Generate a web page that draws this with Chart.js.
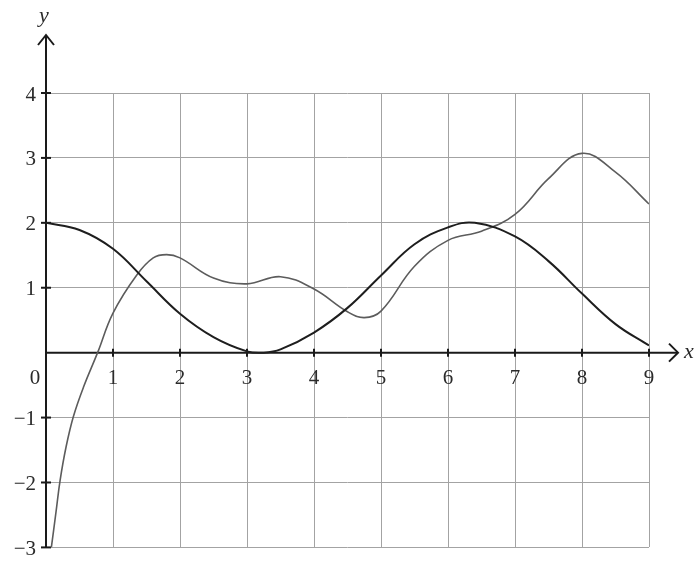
<!DOCTYPE html>
<html>
<head>
<meta charset="utf-8">
<script src="https://cdn.jsdelivr.net/npm/chart.js@4/dist/chart.umd.min.js"></script>
<style>
  html, body { margin: 0; padding: 0; background: #ffffff; }
  #wrap { width: 696px; height: 570px; }
</style>
</head>
<body>
<div id="wrap"><canvas id="c" width="696" height="570"></canvas></div>
<script>
// Axis tick values
const xTicks = [1, 2, 3, 4, 5, 6, 7, 8, 9];
const yTicks = [-3, -2, -1, 1, 2, 3, 4];

// Dark curve: starts at 2, touches 0 near x = 3, peaks at 2 near x = 6.4
const darkX = [0, 0.5, 1, 1.5, 2, 2.5, 3, 3.25, 3.5, 4, 4.5, 5, 5.5, 6, 6.4, 7, 7.5, 8, 8.5, 9];
const darkY = [2.0, 1.89, 1.6, 1.1, 0.6, 0.24, 0.02, 0.0, 0.05, 0.31, 0.69, 1.19, 1.67, 1.93, 2.0, 1.79, 1.41, 0.91, 0.44, 0.11];

// Grey curve: rises from -3, wiggles through the middle, peaks above 3 at x = 8
const greyX = [0.08, 0.15, 0.21, 0.3, 0.41, 0.56, 0.77, 1.0, 1.35, 1.6, 1.8, 2.0, 2.5, 3.0, 3.5, 4.0, 4.5, 4.75, 5.0, 5.5, 6.0, 6.5, 7.0, 7.5, 8.0, 8.5, 9.0];
const greyY = [-3.0, -2.45, -1.97, -1.45, -0.98, -0.53, 0.0, 0.61, 1.19, 1.46, 1.51, 1.46, 1.15, 1.06, 1.17, 0.98, 0.63, 0.54, 0.64, 1.33, 1.73, 1.87, 2.13, 2.68, 3.07, 2.78, 2.29];

const toPoints = (xs, ys) => xs.map((v, i) => ({ x: v, y: ys[i] }));
const minus = v => (v < 0 ? '\u2212' + Math.abs(v) : String(v));

const SERIF = "'Liberation Serif', 'Times New Roman', Tinos, Times, serif";
const INK = '#2b2b2b';

// Draws the arrowed axes through the origin, their tick marks and labels
const axesPlugin = {
  id: 'originAxes',
  beforeDatasetsDraw(chart) {
    const { ctx, scales: { x, y } } = chart;
    const x0 = x.getPixelForValue(0);
    const y0 = y.getPixelForValue(0);
    const yBottom = y.getPixelForValue(-3);
    const yTip = y.top - 58;
    const xTip = x.right + 29;

    ctx.save();
    ctx.strokeStyle = '#1a1a1a';
    ctx.lineWidth = 2;
    ctx.lineCap = 'butt';

    // vertical axis
    ctx.beginPath();
    ctx.moveTo(x0, yBottom);
    ctx.lineTo(x0, yTip);
    ctx.stroke();
    ctx.beginPath();
    ctx.moveTo(x0 - 8, yTip + 10);
    ctx.lineTo(x0, yTip);
    ctx.lineTo(x0 + 8, yTip + 10);
    ctx.stroke();

    // horizontal axis
    ctx.beginPath();
    ctx.moveTo(x0, y0);
    ctx.lineTo(xTip, y0);
    ctx.stroke();
    ctx.beginPath();
    ctx.moveTo(xTip - 9, y0 - 9);
    ctx.lineTo(xTip, y0);
    ctx.lineTo(xTip - 9, y0 + 9);
    ctx.stroke();

    // tick marks
    yTicks.forEach(v => {
      const p = y.getPixelForValue(v);
      ctx.beginPath();
      ctx.moveTo(x0 - 5, p);
      ctx.lineTo(x0 + 5, p);
      ctx.stroke();
    });
    xTicks.forEach(v => {
      const p = x.getPixelForValue(v);
      ctx.beginPath();
      ctx.moveTo(p, y0 - 4);
      ctx.lineTo(p, y0 + 4);
      ctx.stroke();
    });

    // x tick labels and the origin
    ctx.fillStyle = INK;
    ctx.font = '21px ' + SERIF;
    ctx.textAlign = 'center';
    ctx.textBaseline = 'alphabetic';
    xTicks.forEach(v => {
      ctx.fillText(String(v), x.getPixelForValue(v), y0 + 31);
    });
    ctx.fillText('0', x0 - 11, y0 + 31);

    // axis names
    ctx.font = 'italic 22px ' + SERIF;
    ctx.fillText('y', x0 - 2, y.top - 71);
    ctx.textAlign = 'left';
    ctx.fillText('x', xTip + 6, y0 + 5);
    ctx.restore();
  }
};

new Chart(document.getElementById('c'), {
  type: 'line',
  data: {
    datasets: [
      {
        data: toPoints(darkX, darkY),
        borderColor: '#1e1e1e',
        borderWidth: 2,
        pointRadius: 0,
        tension: 0.4,
        fill: false
      },
      {
        data: toPoints(greyX, greyY),
        borderColor: '#5c5c5c',
        borderWidth: 1.6,
        pointRadius: 0,
        tension: 0.4,
        fill: false
      }
    ]
  },
  options: {
    responsive: false,
    devicePixelRatio: 1,
    animation: false,
    layout: { padding: { top: 93, right: 47, bottom: 0, left: 0 } },
    plugins: { legend: { display: false }, tooltip: { enabled: false } },
    scales: {
      x: {
        type: 'linear',
        min: 0,
        max: 9,
        ticks: { stepSize: 1, display: false },
        grid: { color: '#a3a3a3', lineWidth: 1, drawTicks: false },
        border: { display: false },
        afterFit: s => { s.height = 8; }
      },
      y: {
        type: 'linear',
        min: -3,
        max: 4,
        ticks: {
          stepSize: 1,
          padding: 10,
          labelOffset: 2,
          color: INK,
          font: { family: SERIF, size: 21 },
          callback: v => (v === 0 ? '' : minus(v))
        },
        grid: { color: '#a3a3a3', lineWidth: 1, drawTicks: false },
        border: { display: false },
        afterFit: s => { s.width = 46; }
      }
    }
  },
  plugins: [axesPlugin]
});
</script>
</body>
</html>
